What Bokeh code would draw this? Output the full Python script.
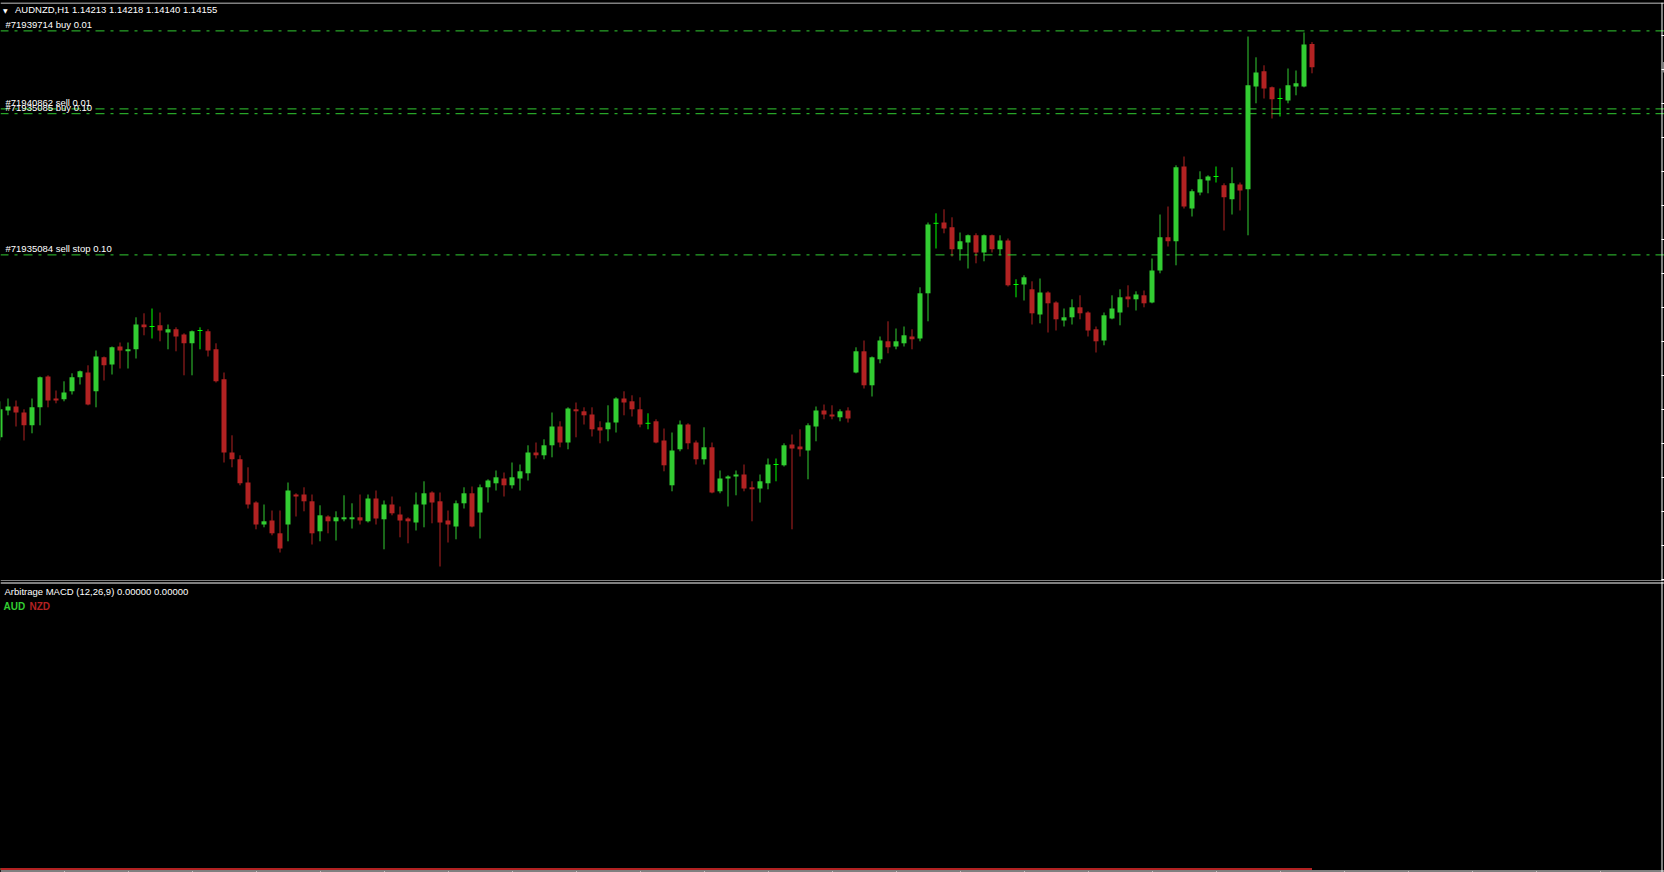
import numpy as np
from bokeh.embed import file_html
from bokeh.layouts import column
from bokeh.models import ColumnDataSource, FixedTicker, Label, LinearAxis, Range1d, Span
from bokeh.plotting import figure
from bokeh.resources import INLINE

# ---- AUDNZD H1 bars (oldest first) ----
symbol = "AUDNZD,H1"

opens = [
    1.13230, 1.13297, 1.13307, 1.13292, 1.13260, 1.13305, 1.13382, 1.13327, 1.13325, 1.13345,
    1.13380, 1.13392, 1.13345, 1.13430, 1.13412, 1.13457, 1.13445, 1.13450, 1.13512, 1.13507,
    1.13510, 1.13492, 1.13500, 1.13487, 1.13465, 1.13497, 1.13495, 1.13450, 1.13375, 1.13192,
    1.13175, 1.13117, 1.13067, 1.13012, 1.13022, 1.12990, 1.13012, 1.13087, 1.13087, 1.13070,
    1.12995, 1.13032, 1.13020, 1.13025, 1.13025, 1.13030, 1.13020, 1.13077, 1.13025, 1.13062,
    1.13037, 1.13027, 1.13017, 1.13062, 1.13092, 1.13070, 1.13022, 1.13007, 1.13065, 1.13090,
    1.13042, 1.13105, 1.13115, 1.13127, 1.13110, 1.13127, 1.13140, 1.13192, 1.13185, 1.13210,
    1.13257, 1.13217, 1.13300, 1.13295, 1.13287, 1.13255, 1.13250, 1.13267, 1.13327, 1.13320,
    1.13300, 1.13265, 1.13270, 1.13222, 1.13110, 1.13200, 1.13262, 1.13217, 1.13175, 1.13205,
    1.13095, 1.13127, 1.13132, 1.13137, 1.13105, 1.13102, 1.13115, 1.13162, 1.13160, 1.13212,
    1.13207, 1.13197, 1.13257, 1.13297, 1.13287, 1.13280, 1.13297, 1.13392, 1.13445, 1.13360,
    1.13425, 1.13470, 1.13457, 1.13465, 1.13482, 1.13477, 1.13590, 1.13765, 1.13767, 1.13755,
    1.13700, 1.13717, 1.13735, 1.13692, 1.13735, 1.13700, 1.13722, 1.13612, 1.13612, 1.13600,
    1.13537, 1.13592, 1.13567, 1.13522, 1.13530, 1.13555, 1.13542, 1.13500, 1.13472, 1.13527,
    1.13542, 1.13582, 1.13575, 1.13585, 1.13567, 1.13647, 1.13730, 1.13720, 1.13907, 1.13802,
    1.13842, 1.13872, 1.13882, 1.13860, 1.13825, 1.13862, 1.13850, 1.14107, 1.14145, 1.14105,
    1.14077, 1.14072, 1.14107, 1.14107, 1.14213,
]
highs = [
    1.13320, 1.13327, 1.13322, 1.13300, 1.13327, 1.13382, 1.13385, 1.13347, 1.13370, 1.13390,
    1.13397, 1.13410, 1.13447, 1.13432, 1.13457, 1.13467, 1.13467, 1.13530, 1.13540, 1.13552,
    1.13542, 1.13512, 1.13505, 1.13490, 1.13497, 1.13505, 1.13500, 1.13465, 1.13392, 1.13235,
    1.13185, 1.13155, 1.13070, 1.13062, 1.13047, 1.13047, 1.13117, 1.13090, 1.13105, 1.13087,
    1.13060, 1.13035, 1.13045, 1.13085, 1.13065, 1.13087, 1.13087, 1.13097, 1.13072, 1.13082,
    1.13057, 1.13030, 1.13092, 1.13120, 1.13095, 1.13092, 1.13047, 1.13072, 1.13105, 1.13107,
    1.13112, 1.13125, 1.13147, 1.13142, 1.13167, 1.13162, 1.13210, 1.13217, 1.13225, 1.13292,
    1.13270, 1.13305, 1.13317, 1.13305, 1.13305, 1.13270, 1.13310, 1.13330, 1.13345, 1.13335,
    1.13330, 1.13290, 1.13275, 1.13252, 1.13242, 1.13272, 1.13265, 1.13222, 1.13255, 1.13217,
    1.13147, 1.13135, 1.13147, 1.13162, 1.13120, 1.13137, 1.13177, 1.13177, 1.13215, 1.13237,
    1.13250, 1.13265, 1.13307, 1.13312, 1.13310, 1.13300, 1.13305, 1.13455, 1.13472, 1.13432,
    1.13482, 1.13520, 1.13502, 1.13507, 1.13500, 1.13605, 1.13767, 1.13790, 1.13800, 1.13780,
    1.13742, 1.13737, 1.13740, 1.13737, 1.13737, 1.13735, 1.13727, 1.13625, 1.13635, 1.13620,
    1.13627, 1.13595, 1.13570, 1.13552, 1.13575, 1.13585, 1.13545, 1.13507, 1.13542, 1.13585,
    1.13600, 1.13610, 1.13595, 1.13597, 1.13677, 1.13787, 1.13807, 1.13910, 1.13932, 1.13850,
    1.13895, 1.13885, 1.13907, 1.13865, 1.13905, 1.13867, 1.14232, 1.14180, 1.14160, 1.14107,
    1.14102, 1.14152, 1.14147, 1.14242, 1.14218,
]
lows = [
    1.13222, 1.13285, 1.13257, 1.13222, 1.13240, 1.13260, 1.13305, 1.13315, 1.13320, 1.13337,
    1.13362, 1.13310, 1.13305, 1.13372, 1.13387, 1.13402, 1.13402, 1.13427, 1.13485, 1.13477,
    1.13470, 1.13450, 1.13445, 1.13385, 1.13385, 1.13450, 1.13432, 1.13367, 1.13167, 1.13155,
    1.13110, 1.13052, 1.13000, 1.13005, 1.12985, 1.12942, 1.12970, 1.13032, 1.13045, 1.12962,
    1.12970, 1.12990, 1.12972, 1.13020, 1.13002, 1.13012, 1.13017, 1.13012, 1.12950, 1.13035,
    1.12980, 1.12965, 1.12997, 1.13005, 1.13015, 1.12907, 1.12967, 1.12975, 1.13052, 1.13005,
    1.12977, 1.13067, 1.13097, 1.13082, 1.13102, 1.13097, 1.13122, 1.13177, 1.13175, 1.13180,
    1.13205, 1.13200, 1.13230, 1.13262, 1.13232, 1.13215, 1.13220, 1.13242, 1.13285, 1.13282,
    1.13255, 1.13250, 1.13215, 1.13145, 1.13095, 1.13195, 1.13200, 1.13162, 1.13162, 1.13090,
    1.13090, 1.13057, 1.13085, 1.13095, 1.13020, 1.13067, 1.13100, 1.13120, 1.13157, 1.13000,
    1.13182, 1.13125, 1.13220, 1.13275, 1.13275, 1.13270, 1.13267, 1.13390, 1.13352, 1.13332,
    1.13415, 1.13440, 1.13450, 1.13457, 1.13450, 1.13470, 1.13520, 1.13702, 1.13740, 1.13682,
    1.13672, 1.13652, 1.13665, 1.13670, 1.13692, 1.13685, 1.13607, 1.13580, 1.13572, 1.13512,
    1.13515, 1.13492, 1.13497, 1.13507, 1.13512, 1.13525, 1.13482, 1.13442, 1.13460, 1.13525,
    1.13510, 1.13555, 1.13547, 1.13555, 1.13565, 1.13640, 1.13707, 1.13660, 1.13802, 1.13782,
    1.13835, 1.13840, 1.13867, 1.13747, 1.13787, 1.13797, 1.13735, 1.14065, 1.14077, 1.14027,
    1.14032, 1.14065, 1.14085, 1.14105, 1.14140,
]
closes = [
    1.13300, 1.13307, 1.13292, 1.13260, 1.13305, 1.13380, 1.13322, 1.13322, 1.13342, 1.13380,
    1.13395, 1.13312, 1.13432, 1.13410, 1.13455, 1.13447, 1.13450, 1.13512, 1.13505, 1.13507,
    1.13497, 1.13500, 1.13482, 1.13465, 1.13495, 1.13497, 1.13447, 1.13370, 1.13192, 1.13175,
    1.13115, 1.13062, 1.13012, 1.13020, 1.12990, 1.12952, 1.13097, 1.13082, 1.13070, 1.12990,
    1.13035, 1.13020, 1.13030, 1.13030, 1.13030, 1.13022, 1.13077, 1.13027, 1.13062, 1.13040,
    1.13022, 1.13020, 1.13062, 1.13090, 1.13067, 1.13017, 1.13012, 1.13065, 1.13090, 1.13007,
    1.13105, 1.13122, 1.13130, 1.13110, 1.13130, 1.13145, 1.13192, 1.13185, 1.13210, 1.13257,
    1.13217, 1.13302, 1.13295, 1.13285, 1.13250, 1.13247, 1.13267, 1.13327, 1.13317, 1.13300,
    1.13262, 1.13265, 1.13217, 1.13160, 1.13197, 1.13262, 1.13215, 1.13175, 1.13205, 1.13092,
    1.13127, 1.13132, 1.13137, 1.13102, 1.13100, 1.13120, 1.13162, 1.13162, 1.13210, 1.13202,
    1.13200, 1.13260, 1.13297, 1.13287, 1.13282, 1.13295, 1.13277, 1.13445, 1.13360, 1.13430,
    1.13472, 1.13455, 1.13470, 1.13485, 1.13475, 1.13590, 1.13762, 1.13765, 1.13752, 1.13700,
    1.13720, 1.13735, 1.13692, 1.13735, 1.13700, 1.13722, 1.13610, 1.13612, 1.13630, 1.13540,
    1.13592, 1.13565, 1.13525, 1.13530, 1.13555, 1.13540, 1.13497, 1.13470, 1.13535, 1.13552,
    1.13580, 1.13575, 1.13587, 1.13565, 1.13647, 1.13730, 1.13720, 1.13905, 1.13807, 1.13845,
    1.13875, 1.13882, 1.13882, 1.13830, 1.13865, 1.13847, 1.14110, 1.14142, 1.14102, 1.14075,
    1.14077, 1.14110, 1.14115, 1.14212, 1.14155,
]

# ---- open orders shown as price levels ----
order_tickets = ["#71939714", "#71940862", "#71935085", "#71935084"]
order_types = ["buy", "sell", "buy", "sell stop"]
order_lots = [0.01, 0.01, 0.10, 0.10]
order_prices = [1.14246, 1.14051, 1.14039, 1.13686]

# ---- price scale ticks (right side) ----
price_ticks = [
    1.14235, 1.14150, 1.14065, 1.13980, 1.13895, 1.13810, 1.13725, 1.13640, 1.13555,
    1.13470, 1.13385, 1.13300, 1.13215, 1.13130, 1.13045, 1.12960, 1.12875,
]
bars_per_time_tick = 8

# ---- indicator sub-window ----
macd_name = "Arbitrage MACD"
macd_fast, macd_slow, macd_signal = 12, 26, 9
macd_aud = [0.0] * len(opens)
macd_nzd = [0.0] * len(opens)

BG = "#000000"
FG = "#FFFFFF"
UP = "#32CD32"
DOWN = "#B22222"
DOJI = "#00FF00"
FONT = "Liberation Sans"

n = len(opens)
idx = np.arange(n)
o = np.array(opens)
h = np.array(highs)
lo = np.array(lows)
c = np.array(closes)
up = c > o
down = c < o
flat = c == o
wick_colors = np.where(up, UP, np.where(down, DOWN, DOJI))

# ---- geometry: 8 px per bar, frame spans the whole window width ----
PX_PER_BAR = 8
WIDTH = 1664
x_lo = 0.5 / PX_PER_BAR
x_hi = x_lo + WIDTH / PX_PER_BAR
x_range = Range1d(x_lo, x_hi)
x_border = x_lo + 1661.5 / PX_PER_BAR       # right edge of the chart area

PRICE_PER_PX = 0.000025
MAIN_H = 579
y_hi = 1.14317
y_lo = y_hi - MAIN_H * PRICE_PER_PX
main_top_line = y_hi - 0.5 * PRICE_PER_PX
main_bottom_line = y_hi - 578.5 * PRICE_PER_PX


def frame_lines(fig, top, bottom):
    for loc in (top, bottom):
        fig.add_layout(Span(location=loc, dimension="width", line_color=FG, line_width=1))
    fig.add_layout(Span(location=x_border, dimension="height", line_color=FG, line_width=1))


def tick_axis(fig, side, ticks, tick_len):
    """Scale with tick marks only; its labels sit beyond the window edge."""
    ax = LinearAxis(
        ticker=FixedTicker(ticks=list(ticks)),
        axis_line_color=None,
        major_tick_line_color=FG, major_tick_line_width=1,
        major_tick_in=tick_len, major_tick_out=0,
        minor_tick_line_color=None, minor_tick_in=0, minor_tick_out=0,
        major_label_text_color=None, major_label_text_font_size="0px",
        major_label_standoff=0,
    )
    fig.add_layout(ax, side)
    return ax


# ---------------- main price window ----------------
p = figure(
    frame_width=WIDTH, frame_height=MAIN_H,
    x_range=x_range, y_range=Range1d(y_lo, y_hi),
    x_axis_location=None, y_axis_location=None,
    output_backend="svg", toolbar_location=None,
    background_fill_color=BG, border_fill_color=BG,
    outline_line_color=None,
    min_border_left=0, min_border_right=0, min_border_top=2, min_border_bottom=0,
)
p.grid.visible = False

# candle wicks
p.segment(x0=idx, y0=lo, x1=idx, y1=h, line_color=list(wick_colors), line_width=1)

# candle bodies
body_w = 5 / PX_PER_BAR
up_src = ColumnDataSource(dict(x=idx[up], top=c[up], bottom=o[up]))
dn_src = ColumnDataSource(dict(x=idx[down], top=o[down], bottom=c[down]))
p.vbar(x="x", top="top", bottom="bottom", width=body_w, source=up_src,
       fill_color=UP, line_color=None)
p.vbar(x="x", top="top", bottom="bottom", width=body_w, source=dn_src,
       fill_color=DOWN, line_color=None)
# doji bars: a flat tick at the open/close price
p.segment(x0=idx[flat] - body_w / 2, y0=o[flat], x1=idx[flat] + body_w / 2, y1=c[flat],
          line_color=DOJI, line_width=1)

# order levels with their captions
for ticket, kind, lots, price in zip(order_tickets, order_types, order_lots, order_prices):
    p.add_layout(Span(location=price, dimension="width", line_color=UP, line_width=1,
                      line_dash="9 6 3 6", line_dash_offset=1))
    p.add_layout(Label(x=x_lo, y=price, x_offset=5, y_offset=6.5,
                       text=f"{ticket} {kind} {lots:.2f}", text_color=FG,
                       text_font=FONT, text_font_size="9.5px", text_baseline="alphabetic"))

# chart border, price scale ticks on the right edge
frame_lines(p, main_top_line, main_bottom_line)
tick_axis(p, "right", price_ticks, 3)
# bid price marker, mostly hidden beyond the right edge
bid_half = 5.3 * PRICE_PER_PX
p.quad(left=[x_border + 1.5 / PX_PER_BAR], right=[x_hi], bottom=[closes[-1] - bid_half],
       top=[closes[-1] + bid_half], fill_color=FG, line_color=None)

# window header: symbol, period and last bar OHLC
header = f"{symbol}  {opens[-1]:.5f} {highs[-1]:.5f} {lows[-1]:.5f} {closes[-1]:.5f}"
p.add_layout(Label(x=x_lo, y=y_hi, x_offset=2.5, y_offset=-7.5, text="\u25BC",
                   text_color=FG, text_font="DejaVu Sans", text_font_size="6px",
                   text_baseline="alphabetic"))
p.add_layout(Label(x=x_lo, y=y_hi, x_offset=14.5, y_offset=-7, text=header,
                   text_color=FG, text_font=FONT, text_font_size="9.5px",
                   text_baseline="alphabetic"))

# ---------------- indicator window ----------------
SUB_H = 291
q_hi = 1.0
q_lo = -0.01253
q_per_px = (q_hi - q_lo) / SUB_H
sub_top_line = q_hi - 1.5 * q_per_px
sub_bottom_line = q_lo + 1.5 * q_per_px

q = figure(
    frame_width=WIDTH, frame_height=SUB_H,
    x_range=x_range, y_range=Range1d(q_lo, q_hi),
    x_axis_location=None, y_axis_location=None,
    output_backend="svg", toolbar_location=None,
    background_fill_color=BG, border_fill_color=BG,
    outline_line_color=None,
    min_border_left=0, min_border_right=0, min_border_top=0, min_border_bottom=0,
)
q.grid.visible = False

q.line(idx, macd_aud, line_color=UP, line_width=2)
q.line(idx, macd_nzd, line_color=DOWN, line_width=2)

frame_lines(q, sub_top_line, sub_bottom_line)
# time scale ticks under the bottom border
tick_axis(q, "below", range(0, int(x_hi) + 1, bars_per_time_tick), 1)

q.add_layout(Label(x=x_lo, y=q_hi, x_offset=4, y_offset=-10,
                   text=f"{macd_name} ({macd_fast},{macd_slow},{macd_signal}) "
                        f"{macd_aud[-1]:.5f} {macd_nzd[-1]:.5f}",
                   text_color=FG, text_font=FONT, text_font_size="9.5px",
                   text_baseline="alphabetic"))
q.add_layout(Label(x=x_lo, y=q_hi, x_offset=3, y_offset=-25, text="AUD",
                   text_color=UP, text_font=FONT, text_font_size="10px",
                   text_font_style="bold", text_baseline="alphabetic"))
q.add_layout(Label(x=x_lo, y=q_hi, x_offset=29, y_offset=-25, text="NZD",
                   text_color=DOWN, text_font=FONT, text_font_size="10px",
                   text_font_style="bold", text_baseline="alphabetic"))

layout = column(p, q, spacing=0, styles={"background-color": BG})
open("out.html", "w").write(file_html(layout, INLINE))
